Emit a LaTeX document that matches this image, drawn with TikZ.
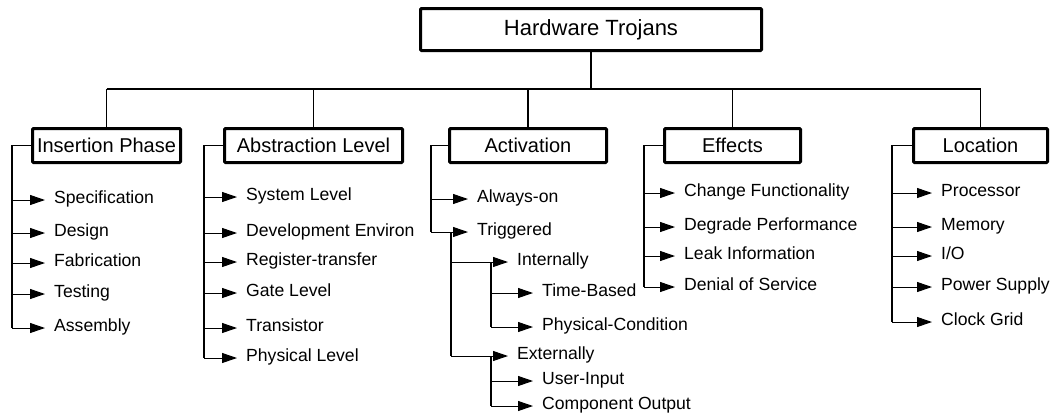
\documentclass[tikz,border=0pt]{standalone}
\usepackage{fontspec}
\setmainfont{Liberation Sans}
\usetikzlibrary{arrows.meta, positioning}

\begin{document}
\begin{tikzpicture}[
    x=1pt, y=-1pt,
    root/.style={draw, line width=3pt, rounded corners=1pt, minimum width=341pt, minimum height=42pt, inner sep=0pt, font=\fontsize{22}{26}\selectfont},
    cat/.style={draw, line width=3pt, rounded corners=1pt, minimum height=34pt, inner sep=0pt, font=\fontsize{20}{24}\selectfont},
    leaf/.style={anchor=west, inner xsep=9pt, inner ysep=0pt, text height=0.72em, text depth=0pt, font=\fontsize{17.6}{20}\selectfont},
    bus/.style={line width=1.8pt},
    brace/.style={line width=1.4pt},
    leafarrow/.style={line width=1pt, -{Triangle[length=15pt, width=10pt]}}
]
\useasboundingbox (0,0) rectangle (1055,416);

% Root
\node[root] (ht) at (591,29.5) {Hardware Trojans};

% Categories
\node[cat, minimum width=148pt] (ins) at (106.5,145.5) {Insertion Phase};
\node[cat, minimum width=178pt] (abs) at (313.5,145.5) {Abstraction Level};
\node[cat, minimum width=157pt] (act) at (528,145.5) {Activation};
\node[cat, minimum width=136pt] (eff) at (732.5,145.5) {Effects};
\node[cat, minimum width=134pt] (loc) at (980.5,145.5) {Location};

% Bus
\coordinate (busl) at (106.5,89);
\coordinate (busr) at (980.5,89);
\draw[bus] (ht.south) -- (ht.south |- busl);
\draw[bus] (busl) -- (busr);
\draw[bus] (busl) -- (ins.north);
\draw[bus] (abs.north |- busl) -- (abs.north);
\draw[bus] (act.north |- busl) -- (act.north);
\draw[bus] (eff.north |- busl) -- (eff.north);
\draw[bus] (busr) -- (loc.north);

% Insertion phase
\node[leaf] (spec) at (45,200) {Specification};
\node[leaf] (dsgn) at (45,233) {Design};
\node[leaf] (fab) at (45,263) {Fabrication};
\node[leaf] (test) at (45,294) {Testing};
\node[leaf] (asm) at (45,328) {Assembly};
\coordinate (insb) at (12,328);
\draw[brace] (ins.west) -| (insb);
\draw[leafarrow] (spec.west -| insb) -- (spec.west);
\draw[leafarrow] (dsgn.west -| insb) -- (dsgn.west);
\draw[leafarrow] (fab.west -| insb) -- (fab.west);
\draw[leafarrow] (test.west -| insb) -- (test.west);
\draw[leafarrow] (insb) -- (asm.west);

% Abstraction level
\node[leaf] (sys) at (237,197) {System Level};
\node[leaf] (dev) at (237,233) {Development Environ};
\node[leaf] (rtl) at (237,262) {Register-transfer};
\node[leaf] (gate) at (237,293) {Gate Level};
\node[leaf] (tran) at (237,328) {Transistor};
\node[leaf] (phys) at (237,358) {Physical Level};
\coordinate (absb) at (204,358);
\draw[brace] (abs.west) -| (absb);
\draw[leafarrow] (sys.west -| absb) -- (sys.west);
\draw[leafarrow] (dev.west -| absb) -- (dev.west);
\draw[leafarrow] (rtl.west -| absb) -- (rtl.west);
\draw[leafarrow] (gate.west -| absb) -- (gate.west);
\draw[leafarrow] (tran.west -| absb) -- (tran.west);
\draw[leafarrow] (absb) -- (phys.west);

% Activation
\node[leaf] (alw) at (468,199) {Always-on};
\node[leaf] (trig) at (468,232) {Triggered};
\node[leaf] (intl) at (508,262) {Internally};
\node[leaf] (time) at (533,293) {Time-Based};
\node[leaf] (cond) at (533,327) {Physical-Condition};
\node[leaf] (extl) at (508,356) {Externally};
\node[leaf] (user) at (533,381) {User-Input};
\node[leaf] (comp) at (533,406) {Component Output};
\coordinate (actb) at (431,232);
\coordinate (trigb) at (451,356);
\coordinate (intb) at (491,327);
\coordinate (extb) at (491,406);
\draw[brace] (act.west) -| (actb);
\draw[leafarrow] (alw.west -| actb) -- (alw.west);
\draw[leafarrow] (actb) -- (trig.west);
\draw[brace] (trig.west -| trigb) -- (trigb);
\draw[leafarrow] (intl.west -| trigb) -- (intl.west);
\draw[leafarrow] (trigb) -- (extl.west);
\draw[brace] (intl.west -| intb) -- (intb);
\draw[leafarrow] (time.west -| intb) -- (time.west);
\draw[leafarrow] (intb) -- (cond.west);
\draw[brace] (extl.west -| extb) -- (extb);
\draw[leafarrow] (user.west -| extb) -- (user.west);
\draw[leafarrow] (extb) -- (comp.west);

% Effects
\node[leaf] (chg) at (675,193) {Change Functionality};
\node[leaf] (deg) at (675,227) {Degrade Performance};
\node[leaf] (leak) at (675,256) {Leak Information};
\node[leaf] (dos) at (675,287) {Denial of Service};
\coordinate (effb) at (644,287);
\draw[brace] (eff.west) -| (effb);
\draw[leafarrow] (chg.west -| effb) -- (chg.west);
\draw[leafarrow] (deg.west -| effb) -- (deg.west);
\draw[leafarrow] (leak.west -| effb) -- (leak.west);
\draw[leafarrow] (effb) -- (dos.west);

% Location
\node[leaf] (proc) at (932,193) {Processor};
\node[leaf] (mem) at (932,227) {Memory};
\node[leaf] (io) at (932,256) {I/O};
\node[leaf] (pwr) at (932,287) {Power Supply};
\node[leaf] (clk) at (932,322) {Clock Grid};
\coordinate (locb) at (892,322);
\draw[brace] (loc.west) -| (locb);
\draw[leafarrow] (proc.west -| locb) -- (proc.west);
\draw[leafarrow] (mem.west -| locb) -- (mem.west);
\draw[leafarrow] (io.west -| locb) -- (io.west);
\draw[leafarrow] (pwr.west -| locb) -- (pwr.west);
\draw[leafarrow] (locb) -- (clk.west);

\end{tikzpicture}
\end{document}
